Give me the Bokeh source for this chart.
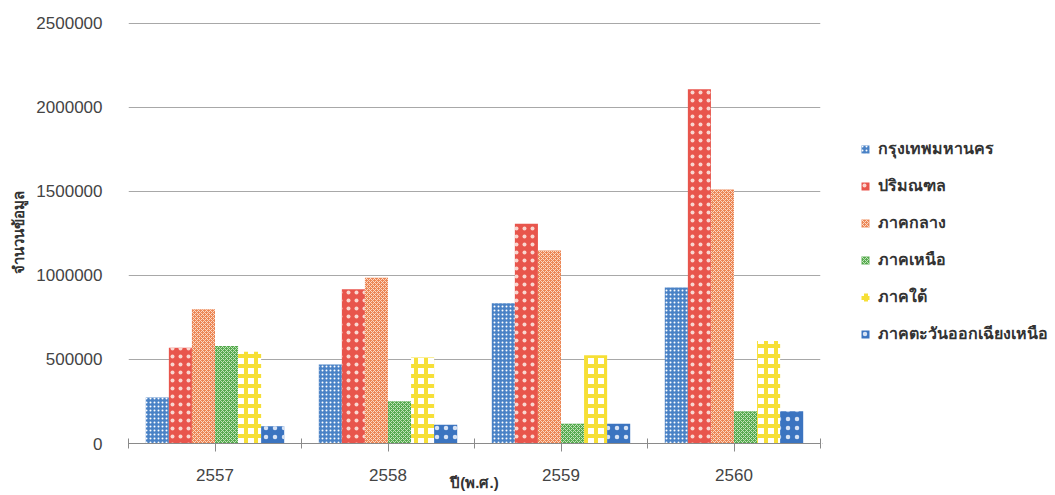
from bokeh.plotting import figure
from bokeh.layouts import row
from bokeh.models import (ColumnDataSource, FixedTicker, Legend, LegendItem, Range1d,
                          BasicTickFormatter)
from bokeh.embed import file_html
from bokeh.resources import INLINE

years = ["2557", "2558", "2559", "2560"]
regions = ["กรุงเทพมหานคร", "ปริมณฑล", "ภาคกลาง", "ภาคเหนือ", "ภาคใต้", "ภาคตะวันออกเฉียงเหนือ"]
bangkok = [274000, 470000, 834000, 928000]
perimeter = [569000, 917000, 1307000, 2106000]
central = [798000, 986000, 1147000, 1510000]
north = [579000, 251000, 118000, 191000]
south = [545000, 511000, 525000, 609000]
northeast = [103000, 112000, 118000, 191000]
series = [bangkok, perimeter, central, north, south, northeast]
y_ticks = [0, 500000, 1000000, 1500000, 2000000, 2500000]

styles = [
    dict(fill_color="#4a82c6", hatch_pattern="dot", hatch_color="white", hatch_scale=4, hatch_weight=1.3),
    dict(fill_color="#e8554c", hatch_pattern="dot", hatch_color="#f9d6cf", hatch_scale=8, hatch_weight=1),
    dict(fill_color="#ec8654", hatch_pattern="diagonal_cross", hatch_color="#fbd9c6", hatch_scale=4, hatch_weight=1),
    dict(fill_color="#56aa4f", hatch_pattern="diagonal_cross", hatch_color="#c2e4ba", hatch_scale=4, hatch_weight=1),
    dict(fill_color="white", hatch_pattern="cross", hatch_color="#f6df35", hatch_scale=10, hatch_weight=4),
    dict(fill_color="#3b74c0", hatch_pattern="dot", hatch_color="#d6e2f4", hatch_scale=9, hatch_weight=1),
]

ncat = len(years)
nser = len(series)
group_w = 0.8
bar_w = group_w / nser

p = figure(width=822, height=495, output_backend="svg", toolbar_location=None,
           x_range=Range1d(0, ncat), y_range=Range1d(0, 2503000),
           min_border_left=128, min_border_right=2, min_border_top=22, min_border_bottom=52)
p.outline_line_color = None
p.background_fill_color = "white"
p.border_fill_color = "white"

# legend-only companion figure: zero-height proxy bars placed outside its view
p2 = figure(width=233, height=495, output_backend="svg", toolbar_location=None,
            x_range=Range1d(0, 1), y_range=Range1d(0, 1),
            x_axis_location=None, y_axis_location=None, min_border=0)
p2.outline_line_color = None
p2.grid.visible = False

items = []
for j, (name, vals) in enumerate(zip(regions, series)):
    xs = [i + 0.5 + (j - (nser - 1) / 2) * bar_w for i in range(ncat)]
    src = ColumnDataSource(dict(x=xs, top=vals))
    p.vbar(x="x", top="top", bottom=0, width=bar_w, source=src, line_color=None, **styles[j])
    proxy = ColumnDataSource(dict(x=[-50], top=[-50]))
    r2 = p2.vbar(x="x", top="top", bottom=-50, width=0.01, source=proxy, line_color=None, **styles[j])
    items.append(LegendItem(label=name, renderers=[r2]))

# x axis
p.xaxis.ticker = FixedTicker(ticks=[i + 0.5 for i in range(ncat)], minor_ticks=list(range(ncat + 1)))
p.xaxis.major_label_overrides = {i + 0.5: y for i, y in enumerate(years)}
p.xaxis.major_tick_in = 0
p.xaxis.major_tick_out = 8
p.xaxis.minor_tick_in = 5
p.xaxis.minor_tick_out = 5
p.xaxis.axis_line_color = "#8a8a8a"
p.xaxis.major_tick_line_color = "#8a8a8a"
p.xaxis.minor_tick_line_color = "#8a8a8a"
p.xaxis.major_label_standoff = 17
p.xaxis.major_label_text_font = "Liberation Sans"
p.xaxis.major_label_text_font_size = "17px"
p.xaxis.major_label_text_color = "#444444"
p.xaxis.axis_label = "ปี(พ.ศ.)"
p.xaxis.axis_label_text_font_style = "bold"
p.xaxis.axis_label_text_font_size = "15px"
p.xaxis.axis_label_text_color = "#333333"
p.xaxis.axis_label_standoff = -10

# y axis
p.yaxis.ticker = FixedTicker(ticks=y_ticks)
p.yaxis.formatter = BasicTickFormatter(use_scientific=False)
p.yaxis.axis_line_color = None
p.yaxis.major_tick_line_color = None
p.yaxis.minor_tick_line_color = None
p.yaxis.major_label_standoff = 20
p.yaxis.major_label_text_font = "Liberation Sans"
p.yaxis.major_label_text_font_size = "17px"
p.yaxis.major_label_text_color = "#444444"
p.yaxis.axis_label = "จำนวนข้อมูล"
p.yaxis.axis_label_text_font_style = "bold"
p.yaxis.axis_label_text_font_size = "15px"
p.yaxis.axis_label_text_color = "#333333"
p.yaxis.axis_label_standoff = 6

p.xgrid.grid_line_color = None
p.ygrid.grid_line_color = "#a8a8a8"
p.ygrid.grid_line_width = 1

legend = Legend(items=items, location=(38, 97), orientation="vertical",
                label_text_font_size="16px", label_text_font_style="bold",
                label_text_color="#333333", glyph_width=10, glyph_height=10,
                label_height=20, spacing=12, padding=0, margin=0,
                border_line_color=None, background_fill_alpha=0, label_standoff=8)
p2.add_layout(legend, "center")

open("out.html", "w").write(file_html(row(p, p2), INLINE))
